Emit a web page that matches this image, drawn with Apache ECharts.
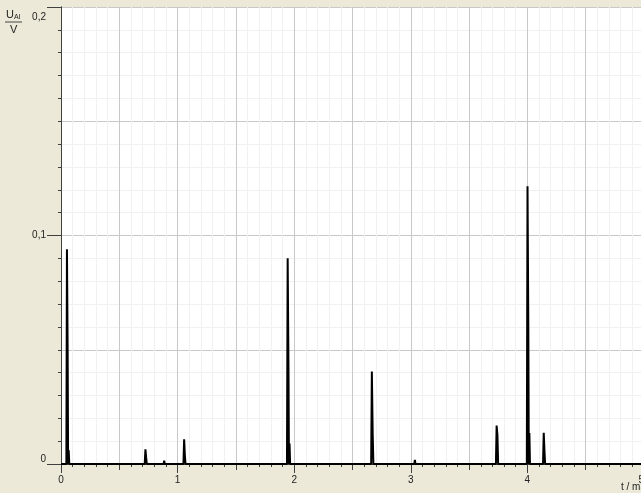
<!DOCTYPE html>
<html>
<head>
<meta charset="utf-8">
<script src="https://cdn.jsdelivr.net/npm/echarts@6/dist/echarts.min.js"></script>
<style>
  html, body { margin: 0; padding: 0; background: #ece9d8; }
  #chart { width: 641px; height: 493px; }
</style>
</head>
<body>
<div id="chart"></div>
<script>
// time in ms, voltage in V
const tMs = [
  0,
  0.046, 0.051, 0.057, 0.061, 0.066, 0.071,
  0.56, 0.565, 0.57,
  0.718, 0.724, 0.73, 0.736,
  0.88, 0.885, 0.89,
  1.05, 1.056, 1.062, 1.068,
  1.938, 1.944, 1.951, 1.955, 1.96, 1.965,
  2.66, 2.666, 2.673, 2.679,
  3.03, 3.035, 3.04,
  3.73, 3.736, 3.743, 3.749,
  3.995, 4.001, 4.008, 4.012, 4.017, 4.022,
  4.134, 4.14, 4.147, 4.152,
  5
]
const uV = [
  0,
  0, 0.094, 0.05, 0, 0.006, 0,
  0, 0.0008, 0,
  0, 0.0064, 0.003, 0,
  0, 0.0015, 0,
  0, 0.0108, 0.004, 0,
  0, 0.09, 0.041, 0, 0.009, 0,
  0, 0.0405, 0.0136, 0,
  0, 0.0018, 0,
  0, 0.0168, 0.0127, 0,
  0, 0.1215, 0.059, 0, 0.0136, 0,
  0, 0.0137, 0.005, 0,
  0
]
const xLabels = ['0', '1', '2', '3', '4', '5']
const yLabels = ['0', '0,1', '0,2']

const fontFamily = '"Liberation Sans", Arial, sans-serif'
const chart = echarts.init(document.getElementById('chart'))

const signal = tMs.map((t, i) => [t, uV[i]])

chart.setOption({
  backgroundColor: '#ece9d8',
  animation: false,
  grid: {
    left: 61, top: 7, width: 583, height: 457,
    containLabel: false, outerBoundsMode: 'none',
    show: true, backgroundColor: '#ffffff', borderWidth: 0
  },
  xAxis: [
    {
      // integer ticks with labels
      type: 'value', min: 0, max: 5, interval: 1,
      axisLine: { show: true, lineStyle: { color: '#404040', width: 1 } },
      axisTick: { show: true, length: 9, lineStyle: { color: '#404040' } },
      axisLabel: {
        margin: 11, color: '#222', fontSize: 10, fontFamily,
        showMaxLabel: true, showMinLabel: true, hideOverlap: false,
        alignMaxLabel: 'right',
        formatter: v => xLabels[Math.round(v)]
      },
      splitLine: { show: false }
    },
    {
      // half steps, minor ticks and grid
      type: 'value', min: 0, max: 5, interval: 0.5, position: 'bottom',
      axisLine: { show: true, lineStyle: { color: '#404040', width: 1 } },
      axisTick: { show: true, length: 6, lineStyle: { color: '#404040' } },
      minorTick: { show: true, splitNumber: 5, length: 3, lineStyle: { color: '#404040' } },
      axisLabel: { show: false },
      splitLine: { show: true, lineStyle: { color: '#c8c8c8', width: 1 } },
      minorSplitLine: { show: true, lineStyle: { color: '#f1f1f1', width: 1 } }
    }
  ],
  yAxis: [
    {
      type: 'value', min: 0, max: 0.2, interval: 0.1,
      axisLine: { show: true, lineStyle: { color: '#404040', width: 1 } },
      axisTick: { show: true, length: 14, lineStyle: { color: '#404040' } },
      axisLabel: {
        margin: 15, color: '#222', fontSize: 10, fontFamily,
        verticalAlignMaxLabel: 'top', verticalAlignMinLabel: 'bottom',
        formatter: v => {
          const s = yLabels[Math.round(v * 10)]
          return v >= 0.2 ? '{top|' + s + '}' : s
        },
        rich: { top: { fontSize: 10, color: '#222', fontFamily, padding: [5, 0, 0, 0] } }
      },
      splitLine: { show: false }
    },
    {
      type: 'value', min: 0, max: 0.2, interval: 0.05, position: 'left',
      axisLine: { show: true, lineStyle: { color: '#404040', width: 1 } },
      axisTick: { show: true, length: 3, lineStyle: { color: '#404040' } },
      minorTick: { show: true, splitNumber: 5, length: 3, lineStyle: { color: '#404040' } },
      axisLabel: { show: false },
      splitLine: { show: true, lineStyle: { color: '#c8c8c8', width: 1 } },
      minorSplitLine: { show: true, lineStyle: { color: '#f1f1f1', width: 1 } }
    }
  ],
  series: [{
    type: 'line',
    xAxisIndex: 0,
    yAxisIndex: 0,
    data: signal,
    showSymbol: false,
    symbol: 'none',
    lineStyle: { color: '#000000', width: 2 },
    z: 5
  }],
  graphic: [
    {
      type: 'text', left: 6, top: 9,
      style: {
        text: '{u|U}{s|AI}',
        rich: {
          u: { fontSize: 11, fill: '#222', fontFamily },
          s: { fontSize: 7, fill: '#222', fontFamily, padding: [6, 0, 0, 0] }
        }
      }
    },
    {
      type: 'line',
      shape: { x1: 5, y1: 22, x2: 22, y2: 22 },
      style: { stroke: '#444', lineWidth: 1 }
    },
    {
      type: 'text', left: 10, top: 24,
      style: { text: 'V', fontSize: 11, fill: '#222', fontFamily }
    },
    {
      type: 'text', left: 621, top: 482,
      style: { text: 't / ms', fontSize: 10, fill: '#222', fontFamily }
    }
  ]
})
</script>
</body>
</html>
